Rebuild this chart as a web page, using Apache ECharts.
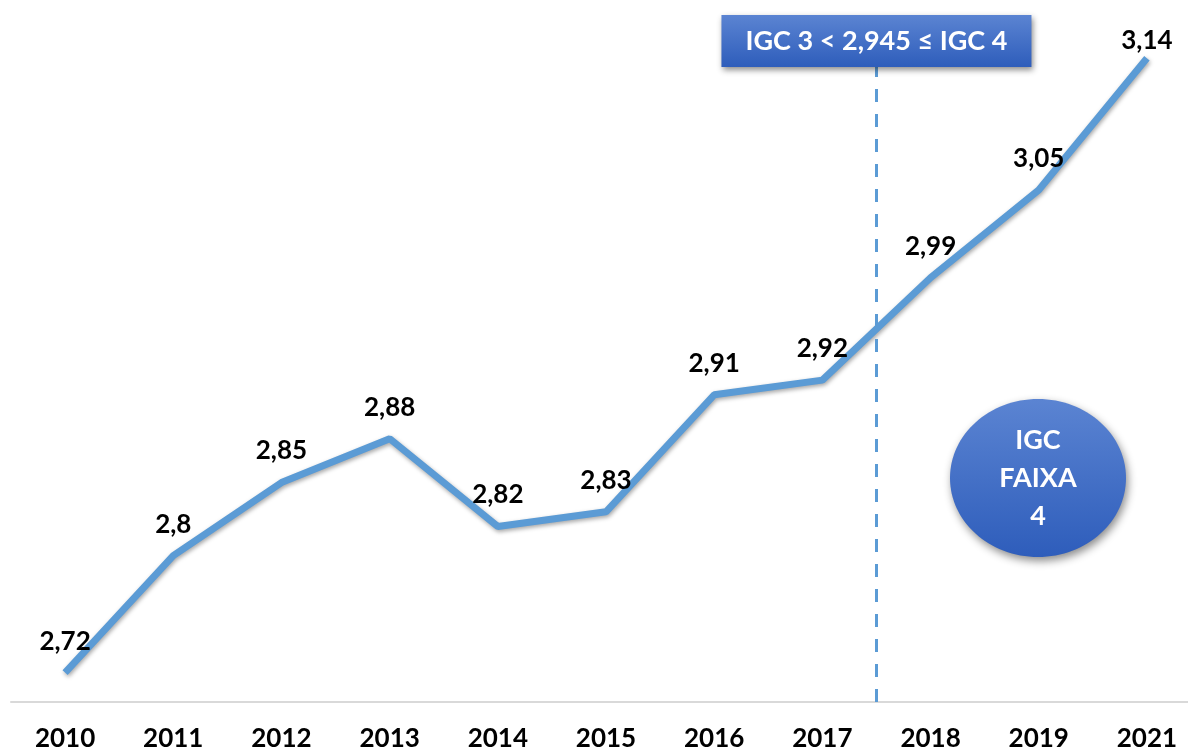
<!DOCTYPE html>
<html>
<head>
<meta charset="utf-8">
<title>IGC</title>
<script src="https://cdn.jsdelivr.net/npm/echarts@6/dist/echarts.min.js"></script>
<style>
  html, body { margin: 0; padding: 0; background: #fff; }
  #chart { width: 1188px; height: 749px; }
</style>
</head>
<body>
<div id="chart"></div>
<script>
// dados
const years = ['2010', '2011', '2012', '2013', '2014', '2015', '2016', '2017', '2018', '2019', '2021'];
const igc = [2.72, 2.8, 2.85, 2.88, 2.82, 2.83, 2.91, 2.92, 2.99, 3.05, 3.14];
const faixaLabel = 'IGC 3 < 2,945 ≤ IGC 4';
const faixaPos = 7.5;       // entre 2017 e 2018
const faixaTop = 3.134;

const font = 'Lato, "Open Sans", sans-serif';
const blueGrad = new echarts.graphic.LinearGradient(0, 0, 0, 1, [
  { offset: 0, color: '#5b84d2' },
  { offset: 1, color: '#2e5dbb' }
]);

// o ultimo rotulo fica encostado no topo da area do grafico
const lineData = igc.map((v, i) => i === igc.length - 1
  ? { value: v, label: { distance: 4 } }
  : v);

const chart = echarts.init(document.getElementById('chart'));

chart.setOption({
  animation: false,
  // grid passa um pouco da borda direita, igual ao original
  grid: { left: 11, width: 1190, top: 29, bottom: 47, containLabel: false, outerBoundsMode: 'none' },
  xAxis: [
    {
      type: 'category',
      data: years,
      boundaryGap: true,
      axisLine: { lineStyle: { color: '#d9d9d9', width: 2 } },
      axisTick: { show: false },
      axisLabel: {
        color: '#000',
        fontFamily: font,
        fontWeight: 'bold',
        fontSize: 26,
        margin: 24
      }
    },
    {
      // eixo auxiliar pra posicionar a linha tracejada entre categorias
      type: 'value',
      min: -0.5,
      max: 10.5,
      show: false
    }
  ],
  yAxis: {
    type: 'value',
    min: 2.7,
    max: 3.16,
    show: false,
    splitLine: { show: false }
  },
  series: [
    {
      type: 'line',
      data: lineData,
      symbol: 'circle',
      symbolSize: 1,
      showSymbol: true,
      itemStyle: { color: 'rgba(0,0,0,0)' },
      lineStyle: {
        color: '#5b9bd5',
        width: 7,
        shadowColor: 'rgba(0,0,0,0.35)',
        shadowBlur: 4,
        shadowOffsetX: 1,
        shadowOffsetY: 2
      },
      label: {
        show: true,
        position: 'top',
        distance: 18,
        color: '#000',
        fontFamily: font,
        fontWeight: 'bold',
        fontSize: 26,
        formatter: p => String(p.value).replace('.', ',')
      },
      z: 3
    },
    {
      type: 'line',
      xAxisIndex: 1,
      data: [],
      markLine: {
        silent: true,
        symbol: 'none',
        lineStyle: { color: '#5b9bd5', width: 3, type: [13, 12] },
        label: {
          show: true,
          position: 'end',
          distance: 0,
          formatter: faixaLabel,
          color: '#fff',
          fontFamily: font,
          fontWeight: 'bold',
          fontSize: 27,
          lineHeight: 32,
          width: 270,
          align: 'center',
          padding: [10, 20],
          backgroundColor: blueGrad,
          shadowColor: 'rgba(0,0,0,0.45)',
          shadowBlur: 6,
          shadowOffsetX: 2,
          shadowOffsetY: 3
        },
        data: [[
          { coord: [faixaPos, 2.7] },
          { coord: [faixaPos, faixaTop] }
        ]]
      }
    }
  ],
  graphic: [
    {
      type: 'ellipse',
      shape: { cx: 1038, cy: 478, rx: 88, ry: 79 },
      style: {
        fill: blueGrad,
        shadowColor: 'rgba(0,0,0,0.45)',
        shadowBlur: 8,
        shadowOffsetX: 2,
        shadowOffsetY: 4
      },
      z: 10
    },
    {
      type: 'text',
      x: 1038,
      y: 478,
      style: {
        text: 'IGC\nFAIXA\n4',
        fill: '#fff',
        font: 'bold 27px ' + font,
        lineHeight: 38,
        align: 'center',
        verticalAlign: 'middle'
      },
      z: 11
    }
  ]
});
</script>
</body>
</html>
